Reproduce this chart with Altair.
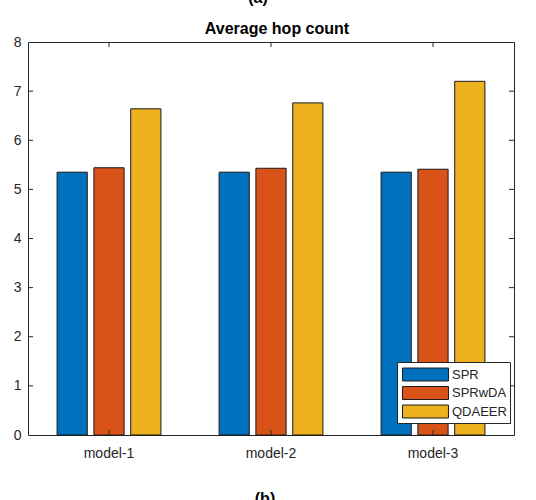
import altair as alt
import pandas as pd

# ---- data ----
models = ["model-1", "model-2", "model-3"]
series = ["SPR", "SPRwDA", "QDAEER"]
spr = [5.35, 5.35, 5.35]
sprwda = [5.44, 5.43, 5.41]
qdaeer = [6.64, 6.76, 7.20]
colors = ["#0072BD", "#D95319", "#EDB120"]
y_ticks = [0, 1, 2, 3, 4, 5, 6, 7, 8]
title_text = "Average hop count"

rows = []
for i, m in enumerate(models):
    for s, vals in zip(series, [spr, sprwda, qdaeer]):
        rows.append({"model": m, "series": s, "value": vals[i]})
df = pd.DataFrame(rows)

W, H = 486, 393
FONT = "Liberation Sans"
INK = "#262626"

xscale = alt.Scale(domain=models, paddingInner=0, paddingOuter=0)
yscale = alt.Scale(domain=[0, 8], nice=False, zero=True)

bars = alt.Chart(df).mark_bar(stroke="#1a1a1a", strokeWidth=1).encode(
    x=alt.X("model:N", scale=xscale, sort=models,
            axis=alt.Axis(title=None, labelAngle=0, ticks=False, domain=False,
                          labelFontSize=14, labelColor=INK, labelFont=FONT,
                          labelPadding=11)),
    xOffset=alt.XOffset("series:N", sort=series,
                        scale=alt.Scale(domain=series, paddingInner=0.18, paddingOuter=0.79)),
    y=alt.Y("value:Q", scale=yscale,
            axis=alt.Axis(title=None, values=y_ticks, ticks=False, domain=False, grid=False,
                          labelFontSize=14, labelColor=INK, labelFont=FONT,
                          labelPadding=7)),
    color=alt.Color("series:N", sort=series,
                    scale=alt.Scale(domain=series, range=colors),
                    legend=alt.Legend(
                        title=None, orient="none", legendX=369, legendY=320,
                        symbolType="M-0.78,-0.72H4.33V0.72H-0.78Z", symbolSize=324,
                        symbolStrokeColor="#1a1a1a", symbolStrokeWidth=1,
                        symbolOpacity=1,
                        labelOffset=33, labelFontSize=13, labelFont=FONT, labelColor=INK,
                        padding=3, rowPadding=0.5,
                        strokeColor=INK, fillColor="white")),
)

# inward tick marks on all four sides (MATLAB box style)
ytick_df = pd.DataFrame({"value": y_ticks[1:-1]})
xtick_df = pd.DataFrame({"model": models})

yt_left = alt.Chart(ytick_df).mark_rule(color=INK, strokeWidth=1).encode(
    y=alt.Y("value:Q", scale=yscale), x=alt.value(0), x2=alt.value(5))
yt_right = alt.Chart(ytick_df).mark_rule(color=INK, strokeWidth=1).encode(
    y=alt.Y("value:Q", scale=yscale), x=alt.value(W - 5), x2=alt.value(W))
xt_bot = alt.Chart(xtick_df).mark_rule(color=INK, strokeWidth=1).encode(
    x=alt.X("model:N", scale=xscale, sort=models), y=alt.value(H - 5), y2=alt.value(H))
xt_top = alt.Chart(xtick_df).mark_rule(color=INK, strokeWidth=1).encode(
    x=alt.X("model:N", scale=xscale, sort=models), y=alt.value(0), y2=alt.value(5))

def label(txt, x, y, size):
    return alt.Chart(pd.DataFrame({"t": [txt]})).mark_text(
        font=FONT, fontSize=size, fontWeight="bold", color="black",
        baseline="alphabetic", align="center"
    ).encode(text="t:N", x=alt.value(x), y=alt.value(y))

lab_a = label("(a)", 230, -39, 16)
lab_b = label("(b)", 237, 462, 16)
lab_title = label(title_text, 249, -8, 16)

chart = alt.layer(bars, yt_left, yt_right, xt_bot, xt_top, lab_a, lab_b, lab_title).properties(
    width=W, height=H,
    background="white",
    autosize=alt.AutoSizeParams(type="none"),
    padding={"left": 28, "top": 42, "right": 22, "bottom": 65},
).configure_view(stroke=INK, strokeWidth=1)

chart.save("out.html", embed_options={"renderer": "svg", "actions": False})
